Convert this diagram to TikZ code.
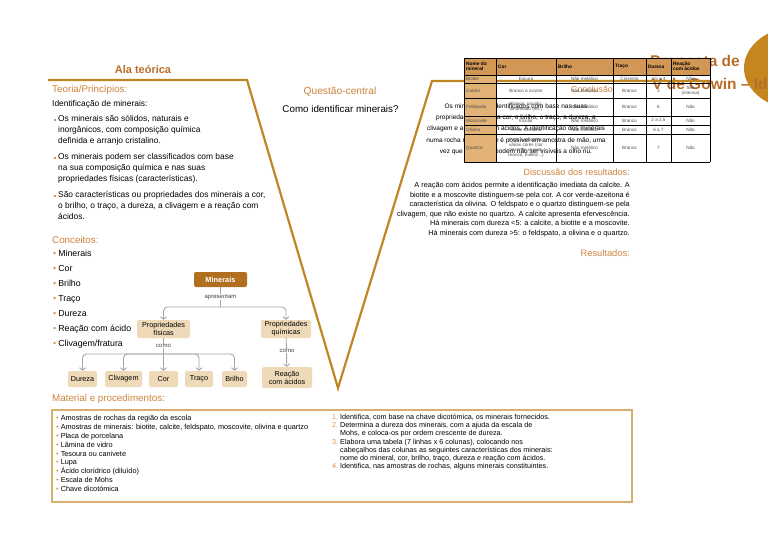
\documentclass[tikz,border=0pt]{standalone}
\usepackage{fontspec}
\setmainfont{Liberation Sans}
\usetikzlibrary{arrows.meta,positioning}
\definecolor{vgold}{RGB}{190,135,35}
\definecolor{horange}{RGB}{205,130,60}
\definecolor{torange}{RGB}{185,110,40}
\definecolor{borange}{RGB}{215,150,70}
\definecolor{mbrown}{RGB}{176,112,32}
\definecolor{ctan}{RGB}{238,218,185}
\definecolor{lgray}{RGB}{165,165,165}
\definecolor{tgray}{RGB}{80,80,80}
\definecolor{thead}{RGB}{210,150,85}
\definecolor{tcol}{RGB}{226,178,118}
\definecolor{mline}{RGB}{215,175,110}
\newcommand{\bul}{{\color{borange}\textbullet}\hspace{2pt}}
\newcommand{\num}[1]{{\color{borange}#1.}\hspace{2pt}}

\begin{document}
\begin{tikzpicture}[x=1pt, y=-1pt,
    vline/.style={draw=vgold, line width=2.2pt},
    head/.style={inner sep=0pt, text=horange, font=\fontsize{9.8}{11}\selectfont},
    txt/.style={inner sep=0pt, align=left, font=\fontsize{8.4}{11}\selectfont},
    bulletdot/.style={rectangle, fill=borange, inner sep=0pt, minimum size=2pt},
    mainbox/.style={rounded corners=2pt, fill=mbrown, text=white,
                    font=\bfseries\fontsize{7.4}{8}\selectfont,
                    minimum width=53pt, minimum height=15pt},
    cbox/.style={rounded corners=2pt, fill=ctan, font=\fontsize{7.2}{8}\selectfont,
                 align=center, inner sep=0.5pt, minimum height=16pt},
    link/.style={draw=lgray, line width=0.9pt, rounded corners=4pt},
    arr/.style={link, -{Straight Barb[length=2.5pt,width=6pt]}},
    lbl/.style={fill=white, inner sep=0.8pt, text=darkgray, font=\fontsize{6}{6}\selectfont},
    cell/.style={inner sep=0pt, align=center, text=tgray, font=\fontsize{4.6}{5.2}\selectfont}
]
\useasboundingbox (0,0) rectangle (768,543);
\clip (0,0) rectangle (768,543);

% Title corner
\fill[vgold!90!orange] (800,68) ellipse [x radius=56pt, y radius=42pt];
\node[anchor=west, inner sep=0pt, text=torange, font=\bfseries\fontsize{15.5}{17}\selectfont] (title1) at (650,62) {Proposta de};
\node[anchor=west, inner sep=0pt, text=torange, font=\bfseries\fontsize{15.5}{17}\selectfont] (title2) at (652,84) {V de Gowin -- Id};

% The V
\draw[vline] (48,80) -- (247,80) -- (338,388) -- (432,81) -- (711,81);

% Left side: theory
\node[inner sep=0pt, text=torange, font=\bfseries\fontsize{11}{12}\selectfont] (ala) at (143,70) {Ala teórica};
\node[head, anchor=west] (teoria) at (52,90) {Teoria/Princípios:};
\node[txt, anchor=west] (ident) at (52,104) {Identificação de minerais:};
\node[bulletdot] (b1) at (54.5,120) {};
\node[txt, anchor=north west] (teo1) at (58,115.5) {Os minerais são sólidos, naturais e\\inorgânicos, com composição química\\definida e arranjo cristalino.};
\node[bulletdot] (b2) at (54.5,158) {};
\node[txt, anchor=north west] (teo2) at (58,153.5) {Os minerais podem ser classificados com base\\na sua composição química e nas suas\\propriedades físicas (características).};
\node[bulletdot] (b3) at (54.5,196) {};
\node[txt, anchor=north west] (teo3) at (58,191.5) {São características ou propriedades dos minerais a cor,\\o brilho, o traço, a dureza, a clivagem e a reação com\\ácidos.};

% Concepts
\node[head, anchor=west] (conceitos) at (52,240) {Conceitos:};
\node[txt, anchor=north west, font=\fontsize{8.8}{15}\selectfont] (clist) at (53,250.2)
  {\bul Minerais\\\bul Cor\\\bul Brilho\\\bul Traço\\\bul Dureza\\\bul Reação com ácido\\\bul Clivagem/fratura};

% Concept map
\node[mainbox] (mine) at (220.5,279.5) {Minerais};
\node[cbox, minimum width=53pt, minimum height=18pt] (phys) at (163.5,329) {Propriedades\\físicas};
\node[cbox, minimum width=50pt, minimum height=18pt] (chem) at (286,329) {Propriedades\\químicas};
\node[cbox, minimum width=29pt] (dur) at (82.5,379) {Dureza};
\node[cbox, minimum width=37pt] (cliv) at (123.5,379) {Clivagem};
\node[cbox, minimum width=29pt] (cor) at (163.5,379) {Cor};
\node[cbox, minimum width=28pt] (traco) at (199,379) {Traço};
\node[cbox, minimum width=25pt] (bril) at (234.5,379) {Brilho};
\node[cbox, minimum width=50pt, minimum height=21pt] (acid) at (287,377.5) {Reação\\com ácidos};

\coordinate (fork1) at (220.5,307);
\coordinate (fork2) at (163.5,354);
\draw[link] (mine) -- (fork1);
\draw[arr] (fork1) -| (phys);
\draw[arr] (fork1) -| (chem);
\draw[arr] (phys) -- (cor);
\draw[arr] (fork2) -| (dur);
\draw[arr] (fork2) -| (cliv);
\draw[arr] (fork2) -| (traco);
\draw[arr] (fork2) -| (bril);
\draw[arr] (chem) -- (acid);
\node[lbl] (apres) at (220.5,297) {apresentam};
\node[lbl] (como1) at (163.5,346) {como};
\node[lbl] (como2) at (287,351) {como};

% Central question
\node[head, font=\fontsize{10.2}{11}\selectfont] (questao) at (340,92) {Questão-central};
\node[inner sep=0pt, font=\fontsize{9.8}{11}\selectfont] (pergunta) at (340.5,109) {Como identificar minerais?};

% Right side: conclusion (under the table)
\node[head, font=\fontsize{8.8}{10}\selectfont] (conclusao) at (592,89) {Conclusão};
\node[txt, align=center, anchor=north, font=\fontsize{6.5}{11.2}\selectfont] (conc) at (516,103.5)
  {Os minerais são identificados com base nas suas\\propriedades, como, a cor, o brilho, o traço, a dureza, a\\clivagem e a reação com ácidos. A identificação dos minerais\\numa rocha nem sempre é possível em amostra de mão, uma\\vez que os cristais podem não ser visíveis a olho nu.};

% Results table
\fill[thead] (464,58) rectangle (710,75);
\fill[tcol] (464,75) rectangle (496,162);
\foreach \x in {464,496,556,613,646,671,710} \draw[line width=0.6pt] (\x,58) -- (\x,162);
\foreach \y in {58,75,83,98,116,125,134,162} \draw[line width=0.6pt] (464,\y) -- (710,\y);
\node[cell, anchor=west, align=left, text=black, font=\bfseries\fontsize{4.8}{5.4}\selectfont] (h1) at (466,66.5) {Nome do\\mineral};
\node[cell, anchor=west, text=black, font=\bfseries\fontsize{4.8}{5.4}\selectfont] (h2) at (498,66.5) {Cor};
\node[cell, anchor=west, text=black, font=\bfseries\fontsize{4.8}{5.4}\selectfont] (h3) at (558,66.5) {Brilho};
\node[cell, anchor=west, text=black, font=\bfseries\fontsize{4.8}{5.4}\selectfont] (h4) at (615,66.5) {Traço};
\node[cell, anchor=west, text=black, font=\bfseries\fontsize{4.8}{5.4}\selectfont] (h5) at (648,66.5) {Dureza};
\node[cell, anchor=west, align=left, text=black, font=\bfseries\fontsize{4.8}{5.4}\selectfont] (h6) at (673,66.5) {Reação\\com ácidos};
\node[cell, anchor=west] (r1) at (466,79) {Biotite};
\node[cell, anchor=west] (r2) at (466,90.5) {Calcite};
\node[cell, anchor=west] (r3) at (466,107) {Feldspato};
\node[cell, anchor=west] (r4) at (466,120.5) {Moscovite};
\node[cell, anchor=west] (r5) at (466,129.5) {Olivina};
\node[cell, anchor=west] (r6) at (466,148) {Quartzo};
\node[cell] (c11) at (526,79) {Escura};
\node[cell] (c21) at (526,90.5) {Branco a incolor};
\node[cell] (c31) at (526,107) {Branco, rosado,\\amarelado (etc.)};
\node[cell] (c41) at (526,120.5) {Incolor};
\node[cell] (c51) at (526,129.5) {Verde-azeitona};
\node[cell] (c61) at (526,148) {Pode apresentar\\várias cores (cor\\cinzenta, rosado,\\branco; hialino...)};
\node[cell] (c12) at (584.5,79) {Não metálico};
\node[cell] (c22) at (584.5,90.5) {Não metálico};
\node[cell] (c32) at (584.5,107) {Não metálico};
\node[cell] (c42) at (584.5,120.5) {Não metálico};
\node[cell] (c52) at (584.5,129.5) {Não metálico};
\node[cell] (c62) at (584.5,148) {Não metálico};
\node[cell] (c13) at (629.5,79) {Cinzento};
\node[cell] (c23) at (629.5,90.5) {Branco};
\node[cell] (c33) at (629.5,107) {Branco};
\node[cell] (c43) at (629.5,120.5) {Branco};
\node[cell] (c53) at (629.5,129.5) {Branco};
\node[cell] (c63) at (629.5,148) {Branco};
\node[cell] (c14) at (658.5,79) {2,5 a 3};
\node[cell] (c24) at (658.5,90.5) {3};
\node[cell] (c34) at (658.5,107) {6};
\node[cell] (c44) at (658.5,120.5) {2 a 2,5};
\node[cell] (c54) at (658.5,129.5) {6 a 7};
\node[cell] (c64) at (658.5,148) {7};
\node[cell] (c15) at (690.5,79) {Não};
\node[cell] (c25) at (690.5,90.5) {Sim\\(intensa)};
\node[cell] (c35) at (690.5,107) {Não};
\node[cell] (c45) at (690.5,120.5) {Não};
\node[cell] (c55) at (690.5,129.5) {Não};
\node[cell] (c65) at (690.5,148) {Não};

% Discussion and results
\node[head, anchor=east, font=\fontsize{9.1}{10}\selectfont] (discussao) at (630,172) {Discussão dos resultados:};
\node[txt, align=right, anchor=north east, font=\fontsize{7.3}{9.5}\selectfont] (disc) at (630,182)
  {A reação com ácidos permite a identificação imediata da calcite. A\\biotite e a moscovite distinguem-se pela cor. A cor verde-azeitona é\\característica da olivina. O feldspato e o quartzo distinguem-se pela\\clivagem, que não existe no quartzo. A calcite apresenta efervescência.\\Há minerais com dureza <5: a calcite, a biotite e a moscovite.\\Há minerais com dureza >5: o feldspato, a olivina e o quartzo.};
\node[head, anchor=east, font=\fontsize{9.3}{10}\selectfont] (resultados) at (630,253) {Resultados:};

% Material and procedures
\node[head, anchor=west] (material) at (52,399) {Material e procedimentos:};
\draw[draw=mline, line width=1.2pt] (52,410) rectangle (632,502);
\node[txt, anchor=north west, font=\fontsize{7.3}{8.9}\selectfont] (mlist) at (56,415)
  {\bul Amostras de rochas da região da escola\\\bul Amostras de minerais: biotite, calcite, feldspato, moscovite, olivina e quartzo\\\bul Placa de porcelana\\\bul Lâmina de vidro\\\bul Tesoura ou canivete\\\bul Lupa\\\bul Ácido clorídrico (diluído)\\\bul Escala de Mohs\\\bul Chave dicotómica};
\node[txt, anchor=north west, font=\fontsize{7.2}{8.2}\selectfont] (plist) at (332,414)
  {\num{1}Identifica, com base na chave dicotómica, os minerais fornecidos.\\
   \num{2}Determina a dureza dos minerais, com a ajuda da escala de\\
   \phantom{\num{2}}Mohs, e coloca-os por ordem crescente de dureza.\\
   \num{3}Elabora uma tabela (7 linhas x 6 colunas), colocando nos\\
   \phantom{\num{3}}cabeçalhos das colunas as seguintes características dos minerais:\\
   \phantom{\num{3}}nome do mineral, cor, brilho, traço, dureza e reação com ácidos.\\
   \num{4}Identifica, nas amostras de rochas, alguns minerais constituintes.};

\end{tikzpicture}
\end{document}
